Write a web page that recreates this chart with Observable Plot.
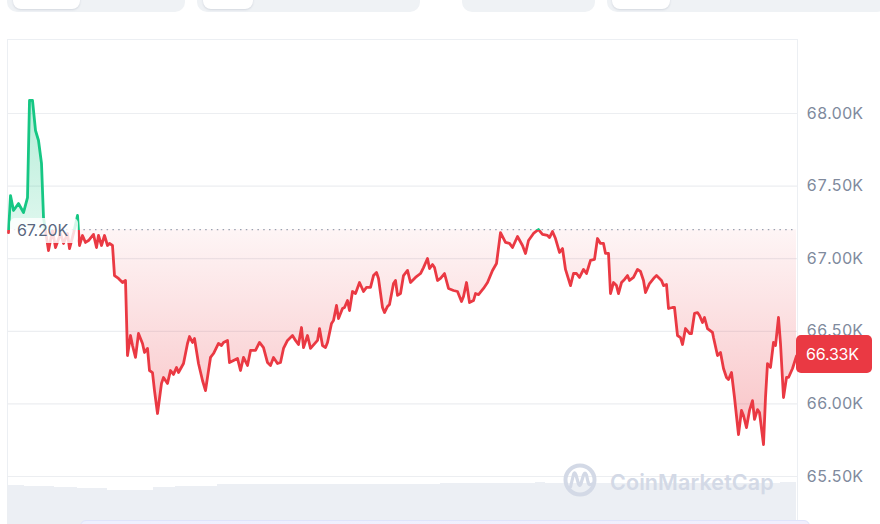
<!DOCTYPE html>
<html>
<head>
<meta charset="utf-8">
<script src="https://cdn.jsdelivr.net/npm/d3@7"></script>
<script src="https://cdn.jsdelivr.net/npm/@observablehq/plot@0.6"></script>
<style>
  html, body { margin: 0; padding: 0; background: #fff; }
  body { width: 880px; height: 524px; overflow: hidden; font-family: Inter, "Noto Sans", sans-serif; }
  #wrap { position: relative; width: 880px; height: 524px; overflow: hidden; }
  .tab { position: absolute; top: -20px; height: 32px; background: #eff2f5; border-radius: 0 0 10px 10px; }
  .tabin { position: absolute; top: -20px; height: 29px; background: #fff; border-radius: 0 0 8px 8px; box-shadow: 0 1px 2px rgba(88,102,126,0.18); }
  #frame { position: absolute; left: 7px; top: 39px; width: 789px; height: 500px; border: 1px solid #eceff3; border-bottom: none; }
  #main { position: absolute; left: 0; top: 0; }
  #vol { position: absolute; left: 0; top: 482px; }
  #baseLabel { position: absolute; left: 10px; top: 218px; width: 68px; height: 25px; background: rgba(255,255,255,0.82);
    border-radius: 5px; color: #58667e; font-size: 16px; line-height: 25px; text-indent: 7px; letter-spacing: -0.2px; }
  #priceTag { position: absolute; left: 796px; top: 335px; width: 76px; height: 38px; background: #ea3943; border-radius: 5px;
    color: #fff; font-size: 16px; line-height: 38px; text-indent: 10px; letter-spacing: -0.2px; }
  #nav { position: absolute; left: 80px; top: 520px; width: 728px; height: 14px; background: linear-gradient(90deg,#eef0fe,#f1effd);
    border: 1px solid #dfe4fb; border-radius: 6px; }
  #wm { position: absolute; left: 560px; top: 460px; width: 230px; height: 42px; }
</style>
</head>
<body>
<div id="wrap">
  <div class="tab" style="left:7px;width:178px"></div>
  <div class="tabin" style="left:13px;width:67px"></div>
  <div class="tab" style="left:197px;width:223px"></div>
  <div class="tabin" style="left:203px;width:50px"></div>
  <div class="tab" style="left:462px;width:133px"></div>
  <div class="tab" style="left:607px;width:280px"></div>
  <div class="tabin" style="left:612px;width:58px"></div>
  <div id="frame"></div>
  <div id="vol"></div>
  <div id="main"></div>
  <div id="nav"></div>
  <svg id="wm" viewBox="560 460 230 42">
    <circle cx="580" cy="480" r="14.5" fill="none" stroke="#d3d9e6" stroke-width="4"/>
    <path d="M570.5,487 L573.5,474.5 Q574.5,471 576,475 L578.5,484 Q579.5,487 581,483.5 L583.5,475 Q585,471 586.5,475 L588,482 Q589,486 592,484"
      fill="none" stroke="#d3d9e6" stroke-width="3.2" stroke-linecap="round" stroke-linejoin="round"/>
    <text x="610" y="490" font-family="Inter" font-weight="600" font-size="21.5" fill="#d3d9e6" letter-spacing="0.1">CoinMarketCap</text>
  </svg>
  <div id="baseLabel">67.20K</div>
  <div id="priceTag">66.33K</div>
</div>
<script>
// time step (≈1.83 min each over 24h) and BTC price in USD
const times = [0,2,5,10,15,19,21,24,27,30,33,35,40,44,47,52,55,59,61,65,69,71,74,77,80,85,88,90,93,96,99,101,104,106,110,114,117,119,122,124,127,130,134,136,139,141,144,146,149,153,155,159,162,165,168,170,175,179,181,184,186,190,194,197,202,205,210,213,215,219,221,225,229,232,235,239,242,247,251,255,259,262,265,269,272,275,279,284,287,290,293,295,299,302,309,311,314,317,319,323,325,328,330,334,336,339,341,344,347,351,355,358,362,365,368,370,374,376,379,381,385,387,389,392,395,399,402,407,412,415,419,421,424,426,429,432,436,440,445,449,453,455,458,461,465,467,470,475,479,484,488,492,497,501,504,509,514,517,520,525,530,534,539,541,544,547,551,554,557,562,565,568,571,575,578,582,586,589,592,595,597,600,602,605,608,610,613,616,619,621,625,629,632,635,637,641,646,648,653,655,658,660,664,666,669,672,674,677,681,683,686,689,691,694,696,699,704,705,709,712,715,718,720,723,726,730,733,735,738,741,744,746,749,751,755,757,759,762,765,767,770,772,775,778,780,784,788];
const prices = [67180,67435,67332,67380,67318,67421,68090,68090,67883,67814,67656,67284,67056,67194,67077,67174,67105,67174,67070,67174,67298,67091,67160,67112,67125,67167,67077,67160,67091,67160,67091,67105,67091,66884,66864,66836,66850,66333,66471,66402,66320,66485,66416,66354,66382,66230,66216,66092,65934,66141,66182,66141,66230,66203,66251,66216,66278,66416,66464,66423,66450,66278,66161,66092,66320,66347,66416,66402,66423,66437,66285,66299,66313,66230,66320,66265,66368,66368,66423,66388,66285,66265,66320,66278,66285,66382,66437,66471,66437,66409,66526,66388,66471,66382,66437,66519,66402,66388,66423,66554,66574,66678,66588,66657,66664,66712,66643,66774,66760,66836,66774,66802,66802,66884,66905,66864,66664,66629,66671,66685,66829,66850,66747,66760,66884,66919,66836,66871,66898,66939,67001,66932,66960,66939,66850,66864,66898,66795,66781,66774,66705,66740,66836,66698,66712,66760,66753,66795,66836,66919,66967,67180,67112,67105,67077,67153,67091,67036,67125,67174,67201,67167,67160,67146,67187,67139,67043,67070,66926,66815,66898,66898,66871,66926,66898,66988,66995,67139,67105,67105,67036,67036,66760,66836,66815,66760,66836,66857,66884,66850,66871,66926,66912,66850,66767,66829,66871,66884,66850,66815,66822,66657,66664,66664,66471,66457,66409,66519,66485,66485,66623,66629,66609,66561,66595,66519,66492,66457,66333,66354,66244,66182,66168,66216,66044,65789,65955,65920,65837,65955,66023,65893,65961,65941,65720,66044,66278,66251,66423,66402,66595,66416,66044,66182,66182,66244,66330];
const openPrice = 67200;
const yTicks = [65500, 66000, 66500, 67000, 67500, 68000];
// relative traded volume, by time segment
const volStart = [0,16,46,69,99,145,167,209,322,432,527,537,772];
const volEnd   = [16,46,69,99,145,167,209,322,432,527,537,772,788];
const volume   = [45,44,43,42,40,43,44,46,46,47,48,47,48];

const data = times.map((t, i) => ({t, price: prices[i]}));
const vols = volume.map((v, i) => ({x1: volStart[i], x2: volEnd[i], v}));

const GREEN = "#16c784", RED = "#ea3943";

const plot = Plot.plot({
  width: 880, height: 524,
  marginLeft: 8, marginRight: 84, marginTop: 113, marginBottom: 48,
  style: {fontFamily: "Inter, 'Noto Sans', sans-serif", fontSize: "16px", color: "#808a9d", background: "transparent", overflow: "visible"},
  x: {domain: [0, 788], axis: null},
  y: {domain: [65500, 68000], axis: null},
  marks: [
    Plot.ruleY(yTicks, {stroke: "#eceef1", strokeWidth: 1.2, x1: -1, x2: 789}),
    Plot.areaY(data, {x: "t", y1: openPrice, y2: "price", fill: "url(#areaGrad)"}),
    Plot.ruleY([openPrice], {stroke: "#9aa2b1", strokeWidth: 1.3, strokeDasharray: "1.5,4.3", x1: 0, x2: 788}),
    Plot.line(data, {x: "t", y: "price", stroke: "url(#lineGrad)", strokeWidth: 2.8, strokeLinejoin: "round", strokeLinecap: "round"}),
    Plot.axisY(yTicks, {anchor: "right", label: null, tickSize: 0, tickPadding: 10, fontSize: 16, fill: "#808a9d",
      tickFormat: d => (d / 1000).toFixed(2) + "K"})
  ]
});

const ys = plot.scale("y");
const by = ys.apply(openPrice);
const H = 524;
const topY = ys.apply(68100), lowY = ys.apply(65780);
const ns = "http://www.w3.org/2000/svg";
const defs = document.createElementNS(ns, "defs");
function grad(id, stops) {
  const g = document.createElementNS(ns, "linearGradient");
  g.setAttribute("id", id);
  g.setAttribute("gradientUnits", "userSpaceOnUse");
  g.setAttribute("x1", 0); g.setAttribute("x2", 0);
  g.setAttribute("y1", 0); g.setAttribute("y2", H);
  for (const [y, c, o] of stops) {
    const s = document.createElementNS(ns, "stop");
    s.setAttribute("offset", Math.max(0, Math.min(1, y / H)));
    s.setAttribute("stop-color", c);
    s.setAttribute("stop-opacity", o);
    g.appendChild(s);
  }
  defs.appendChild(g);
}
grad("lineGrad", [[by, GREEN, 1], [by, RED, 1]]);
grad("areaGrad", [[topY, GREEN, 0.32], [by, GREEN, 0.14], [by, RED, 0.05], [lowY, RED, 0.3]]);
plot.insertBefore(defs, plot.firstChild);
document.getElementById("main").appendChild(plot);

const volPlot = Plot.plot({
  width: 880, height: 48,
  marginLeft: 8, marginRight: 84, marginTop: 0, marginBottom: 0,
  style: {background: "transparent"},
  x: {domain: [0, 788], axis: null},
  y: {domain: [0, 48], axis: null},
  marks: [
    Plot.rectY(vols, {x1: "x1", x2: "x2", y: "v", fill: "#eceff4", inset: 0})
  ]
});
document.getElementById("vol").appendChild(volPlot);
</script>
</body>
</html>
